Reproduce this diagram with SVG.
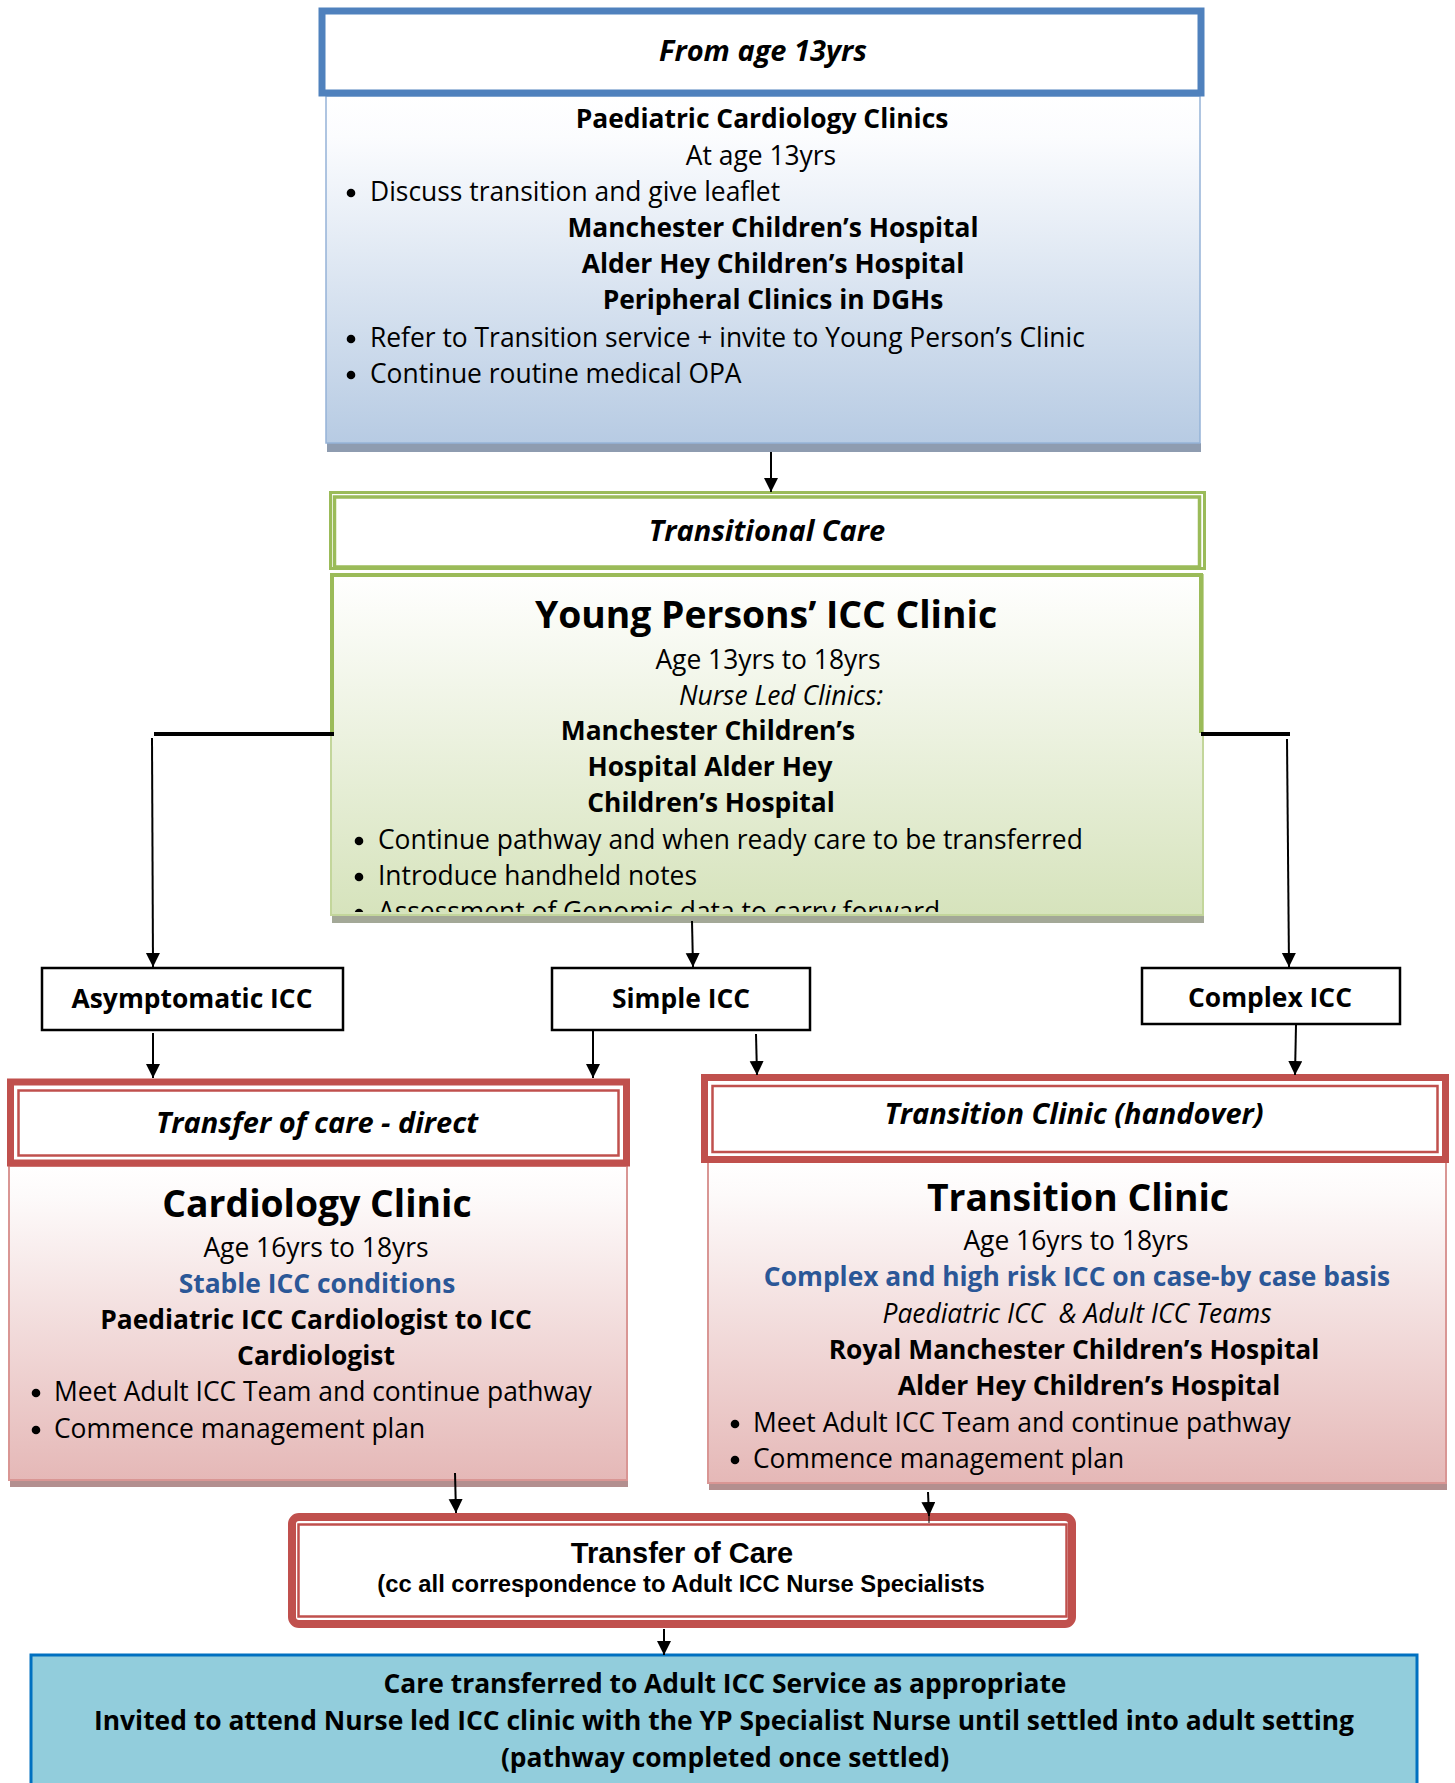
<svg xmlns="http://www.w3.org/2000/svg" width="1455" height="1783" viewBox="0 0 1455 1783">
  <defs>
    <linearGradient id="gBlue" x1="0" y1="0" x2="0" y2="1">
      <stop offset="0" stop-color="#ffffff"/>
      <stop offset="0.12" stop-color="#fbfcfe"/>
      <stop offset="1" stop-color="#b7cbe3"/>
    </linearGradient>
    <linearGradient id="gGreen" x1="0" y1="0" x2="0" y2="1">
      <stop offset="0" stop-color="#ffffff"/>
      <stop offset="0.1" stop-color="#fbfcf8"/>
      <stop offset="1" stop-color="#d6e3bc"/>
    </linearGradient>
    <linearGradient id="gRed" x1="0" y1="0" x2="0" y2="1">
      <stop offset="0" stop-color="#ffffff"/>
      <stop offset="0.1" stop-color="#fdfafa"/>
      <stop offset="1" stop-color="#e5b8b7"/>
    </linearGradient>
    <clipPath id="clipGreen">
      <rect x="331" y="575" width="872" height="337"/>
    </clipPath>
    <marker id="arrow" markerUnits="userSpaceOnUse" markerWidth="15" markerHeight="15" refX="14" refY="7" orient="auto">
      <path d="M0,0 L14,7 L0,14 Z" fill="#000"/>
    </marker>
    <style>
      text { font-family: "Open Sans", "Noto Sans", "DejaVu Sans", sans-serif; fill: #000; }
      .c { text-anchor: middle; }
      .body { font-size: 26.4px; }
      .b { font-weight: bold; }
      .i { font-style: italic; }
      .bullet { fill: #000; }
      .title { font-size: 37.3px; font-weight: bold; }
      .hdr { font-size: 29px; font-weight: bold; font-style: italic; text-anchor: middle; }
      .blue { fill: #2b5797; }
      .arial { font-family: "Liberation Sans", Arial, sans-serif; font-weight: bold; }
      .conn { stroke: #000; stroke-width: 2; fill: none; }
      .branch { stroke: #000; stroke-width: 4; fill: none; }
      .plain { fill: #fff; stroke: #000; stroke-width: 2.5; }
    </style>
  </defs>
  <rect width="1455" height="1783" fill="#fff"/>

  <!-- From age 13yrs: paediatric clinics -->
  <g id="node-paediatric">
    <rect x="327" y="443" width="874" height="9" fill="#8e9cb0"/>
    <rect x="326" y="96" width="874" height="347" fill="url(#gBlue)" stroke="#95b3d7" stroke-width="1.5"/>
    <rect x="322" y="11" width="879" height="82" fill="#fff" stroke="#4f81bd" stroke-width="7"/>
    <text class="hdr" x="763" y="61">From age 13yrs</text>
    <text class="body b c" x="762" y="128">Paediatric Cardiology Clinics</text>
    <text class="body c" x="761" y="165">At age 13yrs</text>
    <circle class="bullet" cx="351" cy="193" r="4.3"/>
    <text class="body" x="370" y="201">Discuss transition and give leaflet</text>
    <text class="body b c" x="773" y="237">Manchester Children’s Hospital</text>
    <text class="body b c" x="773" y="273">Alder Hey Children’s Hospital</text>
    <text class="body b c" x="773" y="309">Peripheral Clinics in DGHs</text>
    <circle class="bullet" cx="351" cy="339" r="4.3"/>
    <text class="body" x="370" y="347">Refer to Transition service + invite to Young Person’s Clinic</text>
    <circle class="bullet" cx="351" cy="375" r="4.3"/>
    <text class="body" x="370" y="383">Continue routine medical OPA</text>
  </g>

  <!-- Transitional care: young persons' clinic -->
  <g id="node-transitional">
    <rect x="332" y="915" width="872" height="8" fill="#a3a897"/>
    <rect x="331" y="575" width="872" height="340" fill="url(#gGreen)" stroke="#c3d69b" stroke-width="2"/>
    <path d="M332,733 V575 H1201 V733" fill="none" stroke="#9bbb59" stroke-width="4"/>
    <rect x="330.5" y="492.5" width="874" height="76" fill="#fff" stroke="#9bbb59" stroke-width="3"/>
    <rect x="334.5" y="497" width="865" height="70" fill="none" stroke="#9bbb59" stroke-width="3.5"/>
    <text class="hdr" x="767" y="541">Transitional Care</text>
    <text class="title c" x="766" y="628">Young Persons’ ICC Clinic</text>
    <text class="body c" x="768" y="669">Age 13yrs to 18yrs</text>
    <text class="body i c" x="781" y="705">Nurse Led Clinics:</text>
    <text class="body b c" x="708" y="740">Manchester Children’s</text>
    <text class="body b c" x="710" y="776">Hospital Alder Hey</text>
    <text class="body b c" x="711" y="812">Children’s Hospital</text>
    <g clip-path="url(#clipGreen)">
      <circle class="bullet" cx="359" cy="841" r="4.3"/>
      <text class="body" x="378" y="849">Continue pathway and when ready care to be transferred</text>
      <circle class="bullet" cx="359" cy="877" r="4.3"/>
      <text class="body" x="378" y="885">Introduce handheld notes</text>
      <circle class="bullet" cx="359" cy="913" r="4.3"/>
      <text class="body" x="378" y="921">Assessment of Genomic data to carry forward</text>
    </g>
  </g>

  <!-- Classification boxes -->
  <g id="node-asymptomatic">
    <rect class="plain" x="42" y="968" width="301" height="62"/>
    <text class="body b c" x="192" y="1008">Asymptomatic ICC</text>
  </g>
  <g id="node-simple">
    <rect class="plain" x="552" y="968" width="258" height="62"/>
    <text class="body b c" x="681" y="1008">Simple ICC</text>
  </g>
  <g id="node-complex">
    <rect class="plain" x="1142" y="968" width="258" height="56"/>
    <text class="body b c" x="1270" y="1007">Complex ICC</text>
  </g>

  <!-- Direct transfer: cardiology clinic -->
  <g id="node-direct">
    <rect x="10" y="1480" width="618" height="7" fill="#b38f8f"/>
    <rect x="9" y="1166" width="618" height="314" fill="url(#gRed)" stroke="#d99694" stroke-width="2"/>
    <rect x="10.5" y="1082" width="616" height="81" fill="#fff" stroke="#c0504d" stroke-width="7"/>
    <rect x="18.5" y="1090.5" width="600" height="65" fill="none" stroke="#c0504d" stroke-width="2.5"/>
    <text class="hdr" x="317" y="1133">Transfer of care - direct</text>
    <text class="title c" x="317" y="1217">Cardiology Clinic</text>
    <text class="body c" x="316" y="1257">Age 16yrs to 18yrs</text>
    <text class="body b c blue" x="317" y="1293">Stable ICC conditions</text>
    <text class="body b c" x="316" y="1329">Paediatric ICC Cardiologist to ICC</text>
    <text class="body b c" x="316" y="1365">Cardiologist</text>
    <circle class="bullet" cx="36" cy="1393" r="4.3"/>
    <text class="body" x="54" y="1401">Meet Adult ICC Team and continue pathway</text>
    <circle class="bullet" cx="36" cy="1430" r="4.3"/>
    <text class="body" x="54" y="1438">Commence management plan</text>
  </g>

  <!-- Handover: transition clinic -->
  <g id="node-handover">
    <rect x="709" y="1483" width="738" height="7" fill="#b38f8f"/>
    <rect x="708" y="1162" width="738" height="321" fill="url(#gRed)" stroke="#d99694" stroke-width="2"/>
    <rect x="704.5" y="1077.5" width="741" height="82" fill="#fff" stroke="#c0504d" stroke-width="7"/>
    <rect x="712.5" y="1086" width="725" height="66" fill="none" stroke="#c0504d" stroke-width="2.5"/>
    <text class="hdr" x="1074" y="1124">Transition Clinic (handover)</text>
    <text class="title c" x="1078" y="1211">Transition Clinic</text>
    <text class="body c" x="1076" y="1250">Age 16yrs to 18yrs</text>
    <text class="body b c blue" x="1077" y="1286">Complex and high risk ICC on case-by case basis</text>
    <text class="body i c" x="1077" y="1323" xml:space="preserve">Paediatric ICC  &amp; Adult ICC Teams</text>
    <text class="body b c" x="1074" y="1359">Royal Manchester Children’s Hospital</text>
    <text class="body b c" x="1089" y="1395">Alder Hey Children’s Hospital</text>
    <circle class="bullet" cx="735" cy="1424" r="4.3"/>
    <text class="body" x="753" y="1432">Meet Adult ICC Team and continue pathway</text>
    <circle class="bullet" cx="735" cy="1460" r="4.3"/>
    <text class="body" x="753" y="1468">Commence management plan</text>
  </g>

  <!-- Transfer of care -->
  <g id="node-transfer">
    <rect x="292" y="1517" width="780" height="107" rx="7" fill="#fff" stroke="#c0504d" stroke-width="8"/>
    <rect x="298.5" y="1524.5" width="768" height="92" fill="none" stroke="#c0504d" stroke-width="2.5"/>
    <text class="arial c" x="682" y="1563" font-size="29">Transfer of Care</text>
    <text class="arial c" x="681" y="1592" font-size="23.8">(cc all correspondence to Adult ICC Nurse Specialists</text>
  </g>

  <!-- Adult service -->
  <g id="node-adult">
    <rect x="31" y="1655" width="1386" height="140" fill="#92cddc" stroke="#0070c0" stroke-width="3"/>
    <text class="body b c" x="725" y="1693">Care transferred to Adult ICC Service as appropriate</text>
    <text class="body b c" x="724" y="1730">Invited to attend Nurse led ICC clinic with the YP Specialist Nurse until settled into adult setting</text>
    <text class="body b c" x="725" y="1767">(pathway completed once settled)</text>
  </g>

  <!-- Connectors -->
  <g id="connectors">
    <path class="conn" d="M771,452 L771,492" marker-end="url(#arrow)"/>
    <path class="branch" d="M154,734 H334"/>
    <path class="branch" d="M1201,734 H1290"/>
    <path class="conn" d="M152,738 L153,967" marker-end="url(#arrow)"/>
    <path class="conn" d="M1287,739 L1289,967" marker-end="url(#arrow)"/>
    <path class="conn" d="M692,921 L693,967" marker-end="url(#arrow)"/>
    <path class="conn" d="M153,1033 L153,1078" marker-end="url(#arrow)"/>
    <path class="conn" d="M593,1031 L593,1078" marker-end="url(#arrow)"/>
    <path class="conn" d="M756,1034 L757,1075" marker-end="url(#arrow)"/>
    <path class="conn" d="M1296,1025 L1295,1075" marker-end="url(#arrow)"/>
    <path class="conn" d="M455,1473 L456,1513" marker-end="url(#arrow)"/>
    <path class="conn" d="M928,1492 L929,1516" marker-end="url(#arrow)"/>
    <path d="M929,1516 L929,1523" stroke="#000" stroke-width="1"/>
    <path class="conn" d="M664,1629 L664,1655" marker-end="url(#arrow)"/>
  </g>
</svg>
